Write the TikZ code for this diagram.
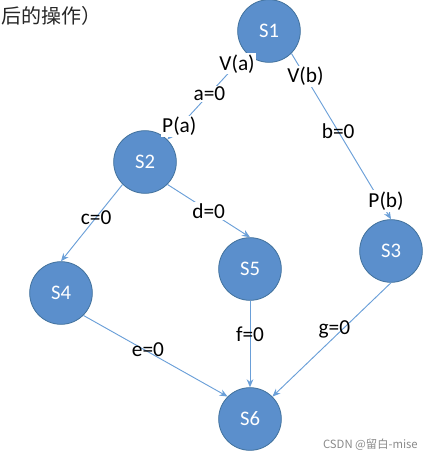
\documentclass[tikz,border=0pt]{standalone}
\usepackage{fontspec}
\setmainfont{Carlito}
\newfontfamily\cjkfont{Noto Sans CJK SC}
\usetikzlibrary{arrows.meta}
\definecolor{stateblue}{HTML}{5B8FCC}
\definecolor{stateedge}{HTML}{41719C}
\definecolor{linkblue}{HTML}{6A9FD8}
\definecolor{marktext}{HTML}{8A8A8A}
\begin{document}
\begin{tikzpicture}[x=0.75pt,y=-0.75pt,
    state/.style={circle,fill=stateblue,draw=stateedge,line width=0.6pt,
                  minimum size=47pt,inner sep=0pt,text=white,
                  font=\fontsize{15.5}{18}\selectfont},
    link/.style={draw=linkblue,line width=0.7pt,-{Stealth[length=6pt,width=5pt]}},
    cond/.style={inner sep=1pt,font=\fontsize{16}{18}\selectfont},
    condbox/.style={cond,fill=white}]
  \useasboundingbox (0,0) rectangle (433,460);
  % caption fragment and watermark
  \node[anchor=west,inner sep=0pt,text=black!85,font=\cjkfont\fontsize{15}{17}\selectfont] (head) at (1,16) {后的操作）};
  \node[anchor=east,inner sep=0pt,text=marktext,font=\cjkfont\fontsize{8.5}{10}\selectfont] (mark) at (418,445) {CSDN @留白-mise};
  % states
  \node[state] (s1) at (269,31)  {S1};
  \node[state] (s2) at (145,162) {S2};
  \node[state] (s3) at (391,251) {S3};
  \node[state] (s4) at (61,293)  {S4};
  \node[state] (s5) at (250,269) {S5};
  \node[state] (s6) at (250,419) {S6};
  % precedence links
  \draw[link] (s1.south west) -- node[condbox,pos=.12] {V(a)}
                                 node[condbox,pos=.47] {a=0}
                                 node[condbox,pos=.85] {P(a)} (s2.north east);
  \draw[link] (s1.south east) -- node[condbox,pos=.14] {V(b)}
                                 node[cond,pos=.47] {b=0}
                                 node[condbox,pos=.89,xshift=4.5pt] {P(b)} (s3.north);
  \draw[link] (s2.south west) -- node[cond,pos=.43] {c=0} (s4.north);
  \draw[link] (s2.south east) -- node[condbox,pos=.5] {d=0} (s5.north);
  \draw[link] (s4.south east) -- node[cond,pos=.42,xshift=3pt] {e=0} (s6.north west);
  \draw[link] (s5.south) -- node[cond,pos=.39] {f=0} (s6.north);
  \draw[link] (s3.south) -- node[cond,pos=.41,xshift=-6pt] {g=0} (s6.north east);
\end{tikzpicture}
\end{document}
